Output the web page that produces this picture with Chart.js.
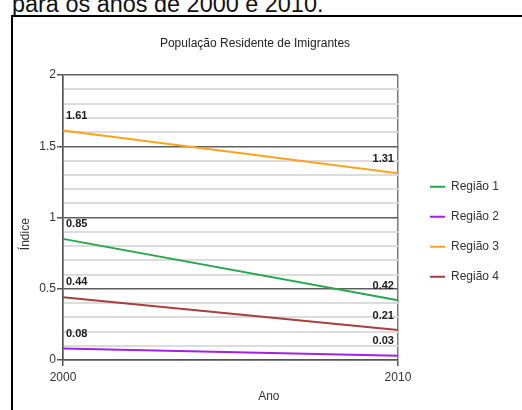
<!DOCTYPE html>
<html>
<head>
<meta charset="utf-8">
<script src="https://cdn.jsdelivr.net/npm/chart.js@4.4.0/dist/chart.umd.min.js"></script>
<style>
  html, body { margin: 0; padding: 0; background: #fff; overflow: hidden; width: 522px; height: 410px; }
  #caption { position: absolute; left: 12px; top: -6.8px; font-family: 'Liberation Sans', Arial, sans-serif; font-size: 23.45px; line-height: 23.45px; color: #111; white-space: nowrap; }
  #frame { position: absolute; left: 11px; top: 15px; width: 600px; height: 500px; border: 2px solid #000; box-sizing: border-box; }
  #c { position: absolute; left: 1px; top: 0px; }
</style>
</head>
<body>
<div id="caption">para os anos de 2000 e 2010.</div>
<div id="frame"></div>
<canvas id="c" width="521" height="470"></canvas>
<script>
// ---- data ----
const years = ['2000', '2010'];
const seriesNames = ['Região 1', 'Região 2', 'Região 3', 'Região 4'];
const regiao1 = [0.85, 0.42];
const regiao2 = [0.08, 0.03];
const regiao3 = [1.61, 1.31];
const regiao4 = [0.44, 0.21];
const yTickLabels = ['0', '0.5', '1', '1.5', '2'];
const chartTitle = 'População Residente de Imigrantes';
const xTitle = 'Ano';
const yTitle = 'Índice';

const colors = ['#26a84c', '#a41fe8', '#ffa31f', '#a83e3e'];
const seriesValues = [regiao1, regiao2, regiao3, regiao4];

Chart.defaults.font.family = "'Liberation Sans', Arial, sans-serif";
Chart.defaults.color = '#333';

const isMajor = v => Math.abs(v * 2 - Math.round(v * 2)) < 1e-6;

const valueLabels = {
  id: 'valueLabels',
  afterDatasetsDraw(chart) {
    const ctx = chart.ctx;
    ctx.save();
    ctx.font = "bold 11px 'Liberation Sans', Arial, sans-serif";
    ctx.fillStyle = '#1a1a1a';
    ctx.textBaseline = 'middle';
    chart.data.datasets.forEach((ds, di) => {
      const meta = chart.getDatasetMeta(di);
      meta.data.forEach((pt, i) => {
        const txt = ds.data[i].toFixed(2);
        if (i === 0) { ctx.textAlign = 'left'; ctx.fillText(txt, pt.x + 3, pt.y - 15); }
        else { ctx.textAlign = 'right'; ctx.fillText(txt, pt.x - 4, pt.y - 14.5); }
      });
    });
    ctx.restore();
  }
};

new Chart(document.getElementById('c'), {
  type: 'line',
  data: {
    labels: years,
    datasets: seriesNames.map((n, i) => ({
      label: n,
      data: seriesValues[i],
      borderColor: colors[i],
      backgroundColor: colors[i],
      borderWidth: 2,
      pointRadius: 0,
      pointStyle: 'line',
      tension: 0,
      yAxisID: 'y'
    }))
  },
  options: {
    responsive: false,
    devicePixelRatio: 1,
    animation: false,
    layout: { padding: { left: 0, right: 13, top: 0, bottom: 6.6 } },
    plugins: {
      title: {
        display: true,
        text: chartTitle,
        color: '#222',
        font: { size: 12, weight: 'normal' },
        padding: { top: 36, bottom: 24.6 }
      },
      legend: {
        position: 'right',
        align: 'center',
        labels: {
          usePointStyle: true,
          pointStyleWidth: 15,
          padding: 18,
          color: '#333',
          font: { size: 12 }
        }
      },
      tooltip: { enabled: false }
    },
    scales: {
      x: {
        type: 'category',
        offset: false,
        grid: {
          color: '#7a7a7a',
          lineWidth: 1.5,
          tickLength: 6,
          tickColor: '#555'
        },
        border: { color: '#555', width: 1.5 },
        ticks: { padding: 4, color: '#333', font: { size: 12 } },
        title: {
          display: true,
          text: '                       ' + xTitle,
          color: '#333',
          font: { size: 12 },
          padding: { top: 0, bottom: 59.2 }
        },
        afterFit(s) { s.height = 103.4; }
      },
      y: {
        type: 'linear',
        position: 'left',
        min: 0,
        max: 2,
        grid: {
          color: ctx => isMajor(ctx.tick.value) ? '#5e5e5e' : '#dcdcdc',
          lineWidth: ctx => isMajor(ctx.tick.value) ? 1.5 : 2,
          tickLength: 6,
          tickColor: ctx => isMajor(ctx.tick.value) ? '#555' : 'rgba(0,0,0,0)'
        },
        border: { color: '#555', width: 1.5 },
        ticks: {
          stepSize: 0.1,
          autoSkip: false,
          padding: 1,
          color: '#333',
          font: { size: 12 },
          callback: v => isMajor(v) ? yTickLabels[Math.round(v * 2)] : ''
        },
        title: {
          display: true,
          text: yTitle + '          ',
          color: '#333',
          font: { size: 12 },
          padding: { top: 17.8, bottom: 0 }
        },
        afterFit(s) { s.width = 62; }
      },
      gap: {
        type: 'linear',
        position: 'right',
        display: false,
        afterFit(s) { s.width = 14; }
      }
    }
  },
  plugins: [valueLabels]
});
</script>
</body>
</html>
